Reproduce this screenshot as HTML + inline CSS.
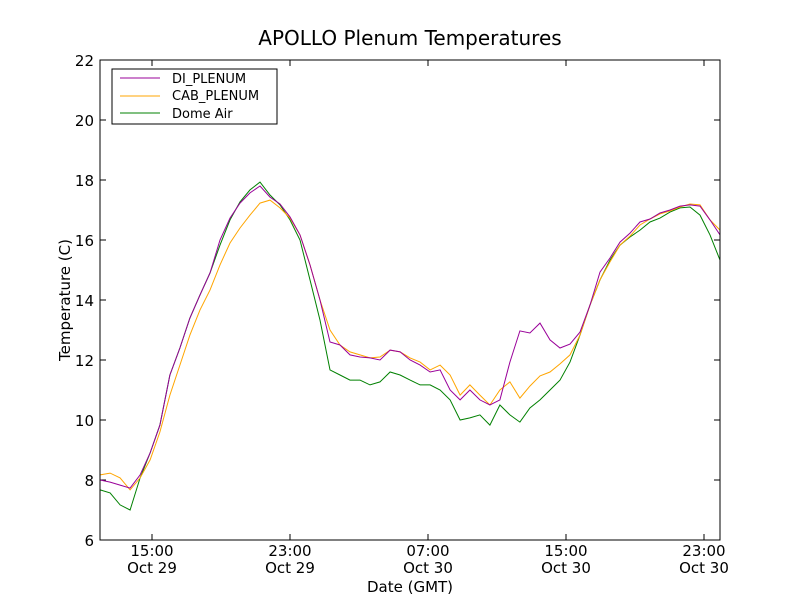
<!DOCTYPE html>
<html><head><meta charset="utf-8"><style>
body{margin:0;background:#fff;font-family:"DejaVu Sans","Liberation Sans",sans-serif}
svg text{font-family:"DejaVu Sans","Liberation Sans",sans-serif}
</style></head><body>
<svg id="chart" width="800" height="600" xmlns="http://www.w3.org/2000/svg">
<rect width="800" height="600" fill="#fff"/>
<text x="410" y="45" font-size="20" text-anchor="middle">APOLLO Plenum Temperatures</text>
<g id="plot"></g>
<rect x="100" y="60" width="620" height="480" fill="none" stroke="#000"/>
<text x="410" y="592" font-size="15" text-anchor="middle">Date (GMT)</text>
<text transform="translate(70,300) rotate(-90)" font-size="15" text-anchor="middle">Temperature (C)</text>
<g>
<rect x="112" y="69" width="165" height="55" fill="#fff" stroke="#000"/>
<line x1="120" y1="78" x2="160" y2="78" stroke="#990099"/>
<text x="172" y="83" font-size="13">DI_PLENUM</text>
<line x1="120" y1="96" x2="160" y2="96" stroke="#ffa500"/>
<text x="172" y="100" font-size="13">CAB_PLENUM</text>
<line x1="120" y1="113" x2="160" y2="113" stroke="#008000"/>
<text x="172" y="118" font-size="13">Dome Air</text>
</g>
</svg>
<script>
const hours=[11.99,12.57,13.15,13.73,14.31,14.89,15.46,16.04,16.62,17.20,17.78,18.36,18.94,19.52,20.10,20.68,21.26,21.84,22.42,23.00,23.58,24.16,24.74,25.32,25.90,26.48,27.06,27.64,28.22,28.80,29.38,29.96,30.54,31.12,31.70,32.28,32.86,33.43,34.01,34.59,35.17,35.75,36.33,36.91,37.49,38.07,38.65,39.23,39.81,40.39,40.97,41.55,42.13,42.71,43.29,43.87,44.45,45.03,45.61,46.19,46.77,47.35,47.93];
const diPlenum=[8.0,7.93,7.83,7.73,8.17,8.9,9.83,11.5,12.4,13.4,14.17,14.9,16.0,16.73,17.23,17.57,17.8,17.43,17.2,16.77,16.17,15.17,14.0,12.6,12.5,12.17,12.1,12.07,12.0,12.33,12.27,12.0,11.83,11.6,11.67,11.0,10.67,11.0,10.67,10.5,10.67,11.93,12.97,12.9,13.23,12.67,12.4,12.53,12.93,13.83,14.93,15.4,15.93,16.23,16.6,16.7,16.9,17.0,17.13,17.17,17.13,16.67,16.17];
const cabPlenum=[8.17,8.23,8.07,7.67,8.07,8.67,9.6,10.83,11.83,12.83,13.67,14.33,15.17,15.9,16.4,16.83,17.23,17.33,17.07,16.73,16.17,15.17,14.0,13.0,12.5,12.27,12.17,12.07,12.1,12.33,12.27,12.07,11.93,11.67,11.83,11.5,10.83,11.17,10.83,10.5,11.0,11.27,10.73,11.13,11.47,11.6,11.87,12.17,12.83,13.83,14.67,15.27,15.83,16.13,16.5,16.7,16.87,16.97,17.1,17.2,17.17,16.67,16.33];
const domeAir=[7.67,7.57,7.17,7.0,8.07,8.9,9.83,11.5,12.4,13.4,14.17,14.9,15.83,16.67,17.27,17.67,17.93,17.5,17.17,16.67,16.0,14.67,13.33,11.67,11.5,11.33,11.33,11.17,11.27,11.6,11.5,11.33,11.17,11.17,11.0,10.67,10.0,10.07,10.17,9.83,10.5,10.17,9.93,10.4,10.67,11.0,11.33,11.93,12.83,13.83,14.67,15.33,15.83,16.1,16.33,16.6,16.73,16.93,17.07,17.1,16.83,16.17,15.33];
const yTicks=[6,8,10,12,14,16,18,20,22];
const xTickHours=[15,23,31,39,47];
const xTickTimes=["15:00","23:00","07:00","15:00","23:00"];
const xTickDates=["Oct 29","Oct 29","Oct 30","Oct 30","Oct 30"];
const X=h=>152+(h-15)*17.25;
const Y=t=>540-(t-6)*30;
const NS="http://www.w3.org/2000/svg";
const g=document.getElementById('plot');
function mk(tag,attrs){const e=document.createElementNS(NS,tag);for(const k in attrs)e.setAttribute(k,attrs[k]);g.appendChild(e);return e;}
yTicks.forEach(t=>{
  const y=Y(t);
  const a=mk('line',{x1:100,x2:106,y1:y,y2:y,stroke:'#000'});
  
  
  mk('line',{x1:714,x2:720,y1:y,y2:y,stroke:'#000'});
  const tx=mk('text',{x:94,y:y+6,'font-size':15,'text-anchor':'end'});
  tx.textContent=t;
  
  
});
xTickHours.forEach((h,i)=>{
  const x=X(h);
  const a=mk('line',{x1:x,x2:x,y1:534,y2:540,stroke:'#000'});
  
  
  mk('line',{x1:x,x2:x,y1:60,y2:66,stroke:'#000'});
  const t=mk('text',{x:x,y:556,'font-size':15,'text-anchor':'middle'});
  t.textContent=xTickTimes[i];
  
  
  const d=mk('text',{x:x,y:573,'font-size':15,'text-anchor':'middle'});
  d.textContent=xTickDates[i];
  
  
});
function line(vals,color,name){
  const p=mk('polyline',{points:vals.map((v,i)=>X(hours[i]).toFixed(1)+','+Y(v).toFixed(1)).join(' '),fill:'none',stroke:color,'stroke-width':1});
  
  
}
line(domeAir,'#008000','dome-air-line');
line(cabPlenum,'#ffa500','cab-plenum-line');
line(diPlenum,'#990099','di-plenum-line');
</script>
</body></html>
